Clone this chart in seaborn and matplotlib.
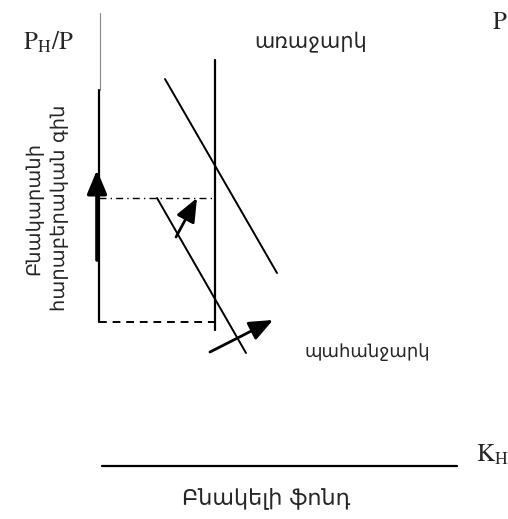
import matplotlib
matplotlib.use("Agg")
import matplotlib.pyplot as plt
import seaborn as sns
import pandas as pd

sns.set_theme(style="white")
plt.rcParams['font.family'] = ['DejaVu Sans']
plt.rcParams['mathtext.fontset'] = 'stix'

# ---- diagram geometry (pixel-like coordinates, y downward) ----
supply_x = [165, 277]
supply_y = [79, 273]
demand_x = [157, 246]
demand_y = [198, 353]
fixed_stock_x = [215, 215]
fixed_stock_y = [60, 330]
price_axis_x = [99, 99]
price_axis_y = [90, 322]
price_axis_top_y = [13, 90]
old_price_y = 322
new_price_y = 198
qty_axis_x = [102, 457]
qty_axis_y = 466
arrow_up = [(97, 260), (97, 170)]
arrow_demand = [(176, 237), (197, 198)]
arrow_shift = [(210, 352), (273, 320)]

labels = {
    "price": r"$\mathrm{P_H/P}$",
    "supply": "առաջարկ",
    "demand": "պահանջարկ",
    "qty": r"$\mathrm{K_H}$",
    "xlabel": "Բնակելի ֆոնդ",
    "ylabel": "Բնակարանի\nհարաբերական գին",
    "corner": r"$\mathrm{P}$",
}

fig = plt.figure(figsize=(5.08, 5.19), dpi=100)
ax = fig.add_axes([0, 0, 1, 1])
ax.set_xlim(0, 508)
ax.set_ylim(519, 0)
ax.axis("off")

lines = pd.DataFrame({
    "x": supply_x + demand_x,
    "y": supply_y + demand_y,
    "curve": ["supply"] * 2 + ["demand"] * 2,
})
sns.lineplot(data=lines, x="x", y="y", units="curve", estimator=None,
             sort=False, color="black", lw=1.4, ax=ax, legend=False)

ax.plot(fixed_stock_x, fixed_stock_y, color="black", lw=1.6)
ax.plot(price_axis_x, price_axis_y, color="black", lw=1.6)
ax.plot([100, 100], price_axis_top_y, color="#888888", lw=0.8)
ax.plot([price_axis_x[0], fixed_stock_x[0]], [old_price_y] * 2, color="black",
        lw=1.4, dashes=(4, 3))
ax.plot([price_axis_x[0], fixed_stock_x[0]], [new_price_y] * 2, color="black",
        lw=1.0, dashes=(5, 3, 1, 3))
ax.plot(qty_axis_x, [qty_axis_y] * 2, color="black", lw=1.6)

for (p0, p1), (hw, hl, lw) in zip([arrow_up, arrow_demand, arrow_shift],
                                  [(0.5, 1.2, 2.6), (0.5, 1.2, 2.0), (0.5, 1.2, 2.0)]):
    ax.annotate("", xy=p1, xytext=p0,
                arrowprops=dict(arrowstyle=f"-|>,head_width={hw},head_length={hl}",
                                color="black", lw=lw, shrinkA=0, shrinkB=0))

ax.text(23, 42, labels["price"], fontsize=18, ha="left", va="center")
ax.text(254, 42, labels["supply"], fontsize=15, ha="left", va="center")
ax.text(305, 352, labels["demand"], fontsize=13, ha="left", va="center")
ax.text(476, 455, labels["qty"], fontsize=18, ha="left", va="center")
ax.text(266, 498, labels["xlabel"], fontsize=16, ha="center", va="center")
ax.text(492, 22, labels["corner"], fontsize=18, ha="left", va="center")
ax.text(47, 208, labels["ylabel"], fontsize=14, ha="center", va="center",
        rotation=90, linespacing=1.45)

fig.savefig("out.png", dpi=100)
